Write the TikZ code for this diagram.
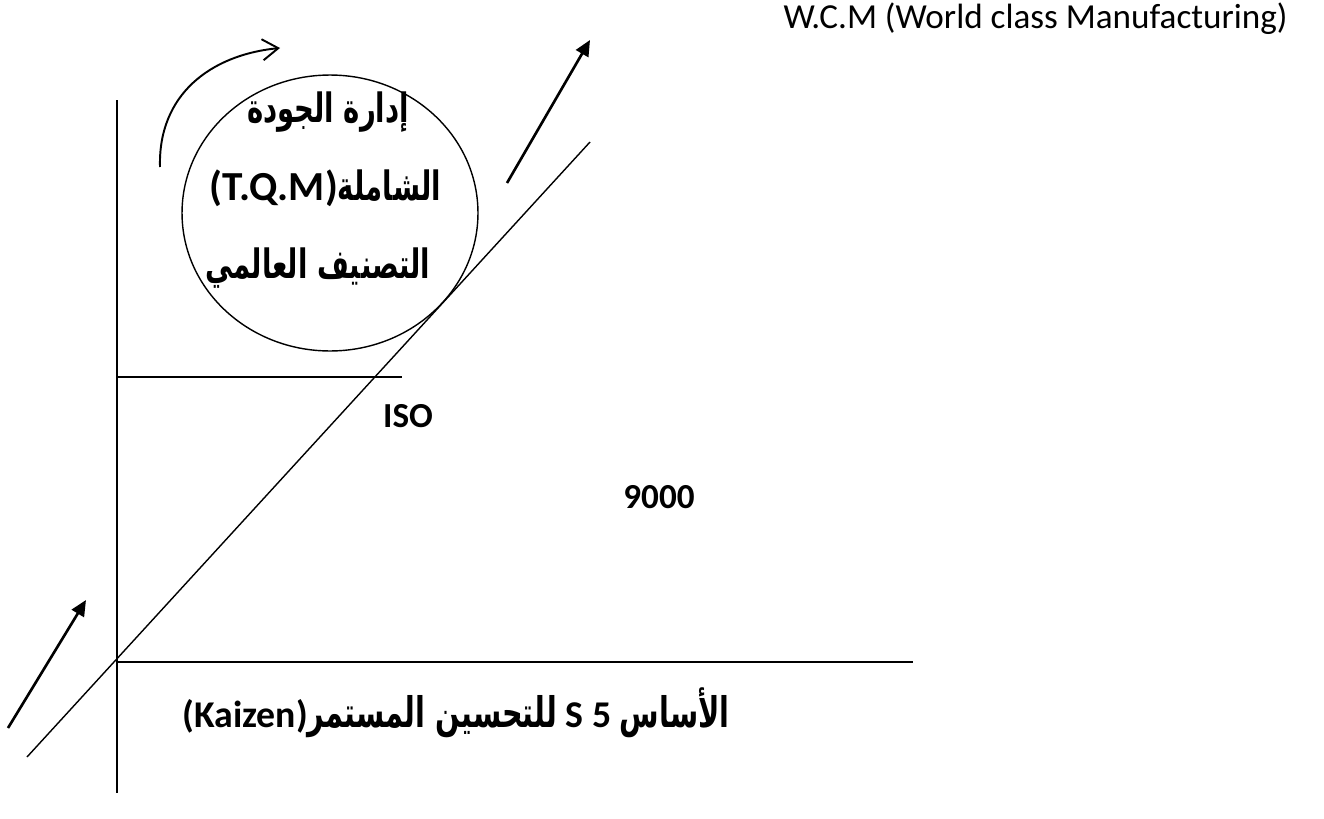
\documentclass[tikz,border=0pt]{standalone}
\usepackage{fontspec}
\setmainfont{Carlito}
\newfontfamily\arabicfont[Script=Arabic,FakeStretch=0.68]{DejaVu Sans}
\TeXXeTstate=1
\usetikzlibrary{arrows.meta,shapes.geometric}

\tikzset{
  thinline/.style={line width=0.8pt},
  arrowline/.style={line width=1.5pt,-{Triangle[length=9pt,width=8pt]}},
  curvearrow/.style={line width=1.1pt,-{Straight Barb[length=9pt,width=12pt]}},
  boldlabel/.style={font=\fontsize{#1}{#1}\selectfont\bfseries,inner sep=0pt},
  boldlabel/.default=20,
}
\newcommand{\arbig}{\fontsize{24}{24}\selectfont\arabicfont}

\begin{document}
\begin{tikzpicture}[x=0.02cm,y=-0.02cm]
\useasboundingbox (0,0) rectangle (1324,818);
%% axes and the rising line
\coordinate (vtop) at (117,100);
\coordinate (vbot) at (117,793);
\coordinate (base) at (117,662);
\coordinate (baseend) at (913,662);
\coordinate (isostart) at (117,377);
\coordinate (isoend) at (402,377);
\coordinate (risefrom) at (27,757);
\coordinate (riseto) at (590,142);
\draw[thinline] (vtop) -- (vbot);
\draw[thinline] (base) -- (baseend);
\draw[thinline] (isostart) -- (isoend);
\draw[thinline] (risefrom) -- (riseto);
%% arrows
\coordinate (lowtail) at (8,728);
\coordinate (lowhead) at (86,600);
\coordinate (hightail) at (507,183);
\coordinate (highhead) at (590,40);
\draw[arrowline] (lowtail) -- (lowhead);
\draw[arrowline] (hightail) -- (highhead);
\coordinate (turnfrom) at (160,167);
\coordinate (turnto) at (280,48);
\draw[curvearrow] (turnfrom) .. controls (158,95) and (210,55) .. (turnto);
%% TQM circle
\node[draw,thinline,ellipse,minimum width=5.92cm,minimum height=5.52cm,inner sep=0pt] (tqm) at (330,213) {};
\node[boldlabel=23] (tqmone) at (328,112) {\arabicfont\beginR إدارة الجودة\endR};
\node[boldlabel=23.5] (tqmtwo) at (325,188) {(T.Q.M){\fontsize{23}{23}\arabicfont\beginR الشاملة\endR}};
\node[boldlabel=23] (tqmthree) at (318,268) {\arabicfont\beginR التصنيف العالمي\endR};
%% labels
\node[font=\fontsize{20}{24}\selectfont,anchor=east,inner sep=0pt] (wcm) at (1288,19) {W.C.M (World class Manufacturing)};
\node[boldlabel] (iso) at (408,416) {ISO};
\node[boldlabel] (isonum) at (659,497) {9000};
\node[boldlabel=21.5] (kaizen) at (456,713) {(Kaizen){\arbig\beginR للتحسين المستمر\endR} S 5 {\arbig\beginR الأساس\endR}};
\end{tikzpicture}
\end{document}
